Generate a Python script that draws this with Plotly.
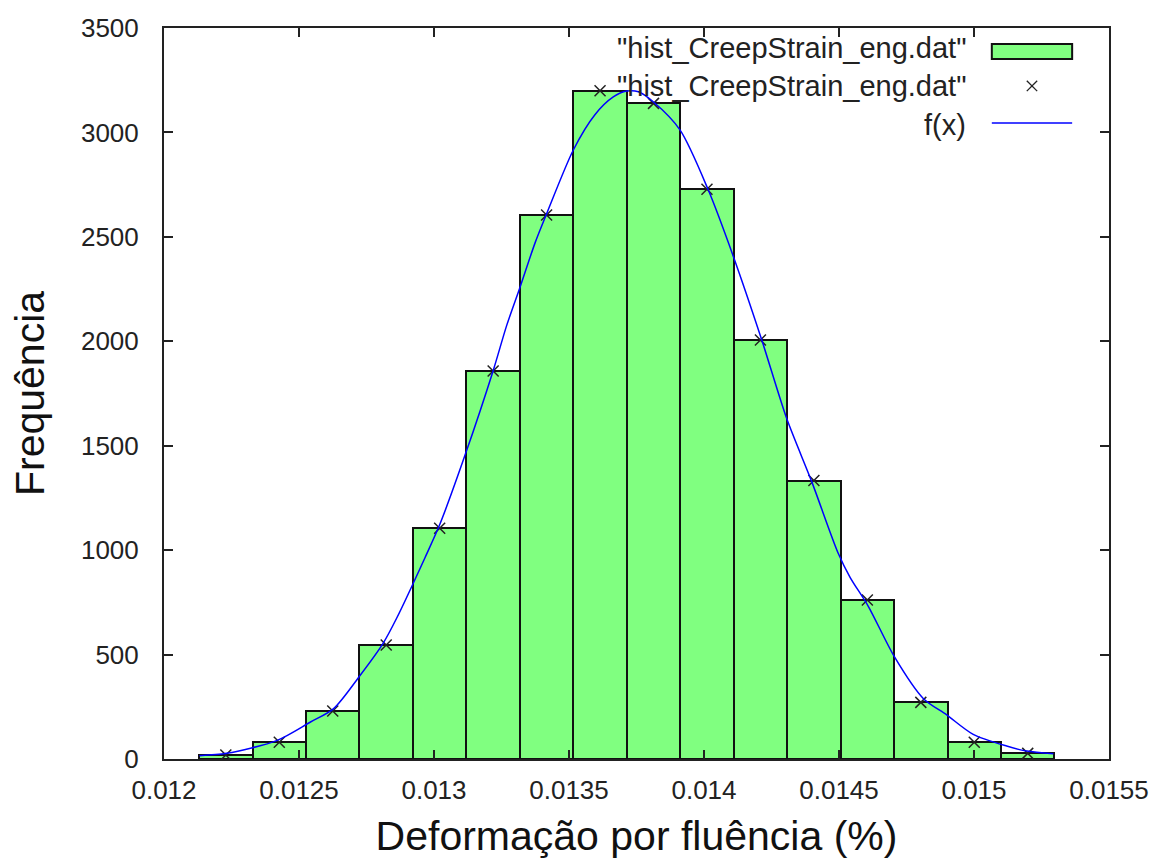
import plotly.graph_objects as go

# ---- data ----
bin_centers = [0.012229, 0.012427, 0.012625, 0.012823, 0.013021, 0.013219, 0.013417, 0.013615,
               0.013813, 0.014011, 0.014209, 0.014407, 0.014605, 0.014803, 0.015001, 0.015199]
counts = [19, 80, 230, 546, 1105, 1858, 2605, 3200, 3139, 2728, 2006, 1333, 761, 271, 80, 27]
bin_width = 0.000198

fx_x = [0.012131, 0.012232, 0.012417, 0.012541, 0.012627, 0.012726, 0.012812, 0.012862,
        0.012967, 0.013022, 0.013115, 0.013220, 0.013269, 0.013319, 0.013374, 0.013417,
        0.013516, 0.013596, 0.013664, 0.013714, 0.013757, 0.013812, 0.013911, 0.014016,
        0.014109, 0.014214, 0.014306, 0.014399, 0.014497, 0.014541, 0.014609, 0.014705,
        0.014812, 0.014899, 0.014997, 0.015121, 0.015195, 0.015294]
fx_y = [16, 27, 88, 176, 240, 400, 555, 675,
        965, 1125, 1455, 1863, 2075, 2260, 2470, 2610,
        2916, 3085, 3170, 3198, 3195, 3147, 3012, 2724,
        2405, 2006, 1631, 1328, 985, 870, 730, 490,
        290, 211, 118, 62, 38, 25]

x_tickvals = [0.012, 0.0125, 0.013, 0.0135, 0.014, 0.0145, 0.015, 0.0155]
x_ticktext = ["0.012", "0.0125", "0.013", "0.0135", "0.014", "0.0145", "0.015", "0.0155"]
y_tickvals = [0, 500, 1000, 1500, 2000, 2500, 3000, 3500]

series_names = ['"hist_CreepStrain_eng.dat"', '"hist_CreepStrain_eng.dat"', "f(x)"]
x_title = "Deformação por fluência (%)"
y_title = "Frequência"

FONT = "Liberation Sans, Arial, sans-serif"
TXT = "#222222"

fig = go.Figure()
fig.add_trace(go.Bar(x=bin_centers, y=counts, width=bin_width,
                     marker=dict(color="#80ff80", line=dict(color="#111111", width=2)),
                     name=series_names[0], showlegend=False))
fig.add_trace(go.Scatter(x=bin_centers, y=counts, mode="markers",
                         marker=dict(symbol="x-thin-open", size=11, color="#222222",
                                     line=dict(color="#222222", width=1.5)),
                         name=series_names[1], showlegend=False))
fig.add_trace(go.Scatter(x=fx_x, y=fx_y, mode="lines", line_shape="spline",
                         line=dict(color="#0000ff", width=1.5, smoothing=0.8),
                         name=series_names[2], showlegend=False))

axis_common = dict(showline=True, linecolor="#222222", linewidth=2, mirror="ticks",
                   ticks="inside", ticklen=9, tickwidth=1.5, tickcolor="#222222",
                   showgrid=False, zeroline=False,
                   tickfont=dict(family=FONT, size=26, color=TXT))

fig.update_layout(
    width=1156, height=861,
    margin=dict(l=164, r=47, t=28, b=102, autoexpand=False),
    plot_bgcolor="white", paper_bgcolor="white",
    font=dict(family=FONT, color=TXT),
    bargap=0,
    xaxis=dict(range=[0.012, 0.0155], tickvals=x_tickvals, ticktext=x_ticktext,
               ticklabelstandoff=7,
               title=dict(text=x_title, font=dict(family=FONT, size=41, color="#111111"),
                          standoff=17),
               **axis_common),
    yaxis=dict(range=[0, 3500], tickvals=y_tickvals, ticklabelstandoff=18,
               title=dict(text=y_title, font=dict(family=FONT, size=41, color="#111111"),
                          standoff=24),
               **axis_common),
    showlegend=False,
)

# gnuplot-style key (text right-aligned, sample on the right)
key_text_x = 0.851
key_rows_y = [0.972, 0.9207, 0.8673]
for name, yy in zip(series_names, key_rows_y):
    fig.add_annotation(x=key_text_x, y=yy, xref="paper", yref="paper", text=name,
                       showarrow=False, xanchor="right", yanchor="middle",
                       font=dict(family=FONT, size=29, color=TXT))
# bar sample
fig.add_shape(type="rect", xref="paper", yref="paper", x0=0.876, x1=0.961, y0=0.9576, y1=0.978,
              fillcolor="#80ff80", line=dict(color="#111111", width=2))
# cross sample
cx, cy, dx, dy = 0.9185, 0.9207, 0.0055, 0.0071
fig.add_shape(type="line", xref="paper", yref="paper", x0=cx - dx, x1=cx + dx, y0=cy - dy, y1=cy + dy,
              line=dict(color="#222222", width=1.3))
fig.add_shape(type="line", xref="paper", yref="paper", x0=cx - dx, x1=cx + dx, y0=cy + dy, y1=cy - dy,
              line=dict(color="#222222", width=1.3))
# line sample
fig.add_shape(type="line", xref="paper", yref="paper", x0=0.876, x1=0.961, y0=0.870, y1=0.870,
              line=dict(color="#0000ff", width=1.5))

fig.write_html("out.html")
